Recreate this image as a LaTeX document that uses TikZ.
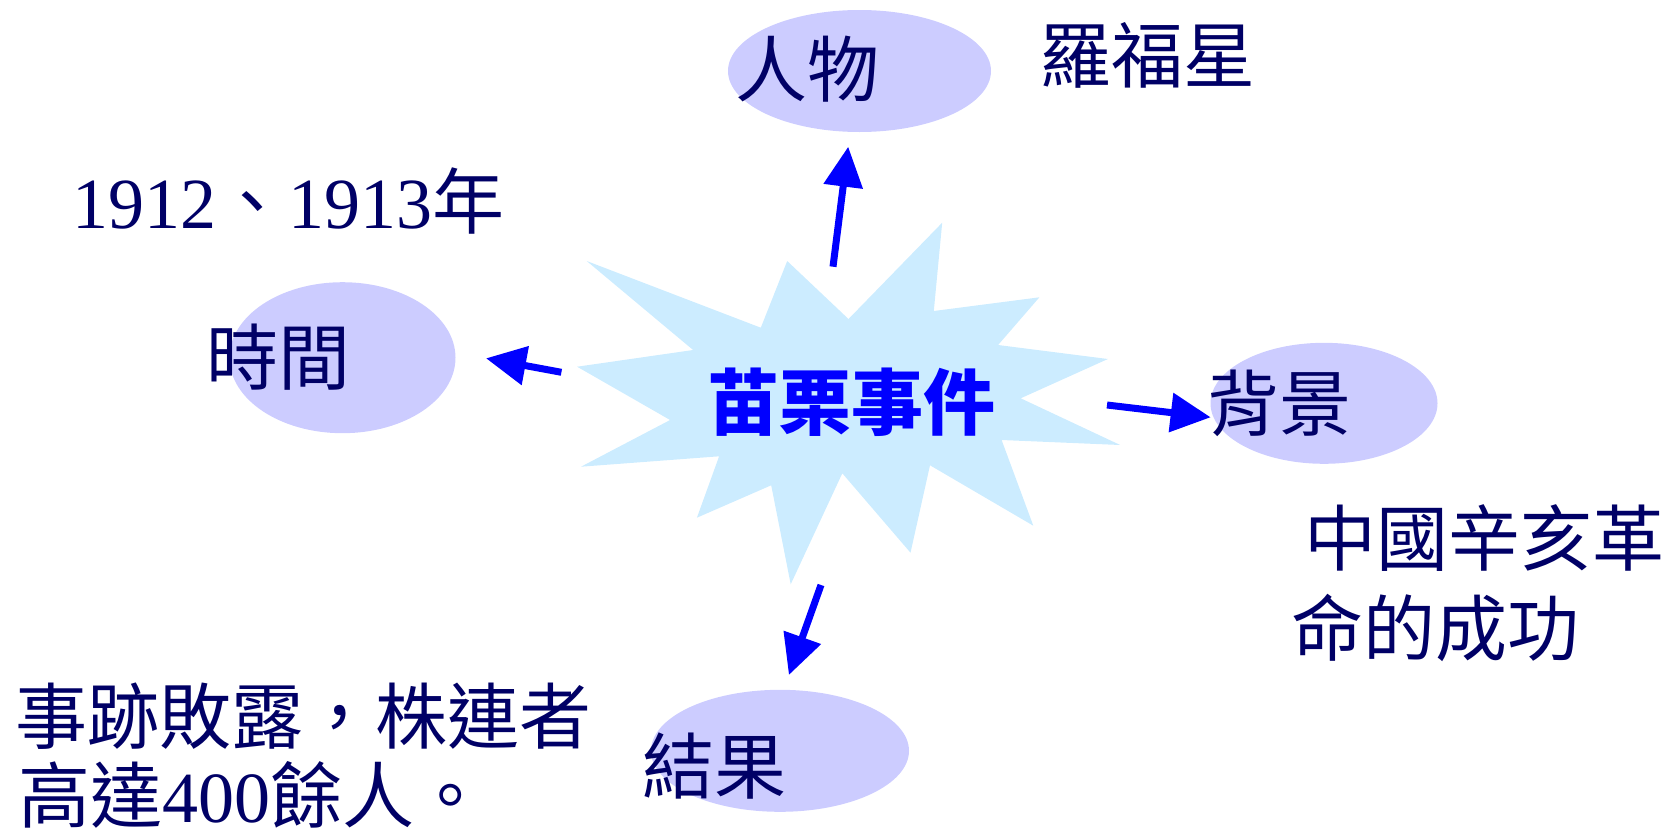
\documentclass[tikz,border=0pt]{standalone}
\usepackage{fontspec}
\setmainfont{Liberation Serif}
\newfontfamily\cjk{Noto Sans CJK TC}
\usetikzlibrary{arrows.meta,shapes.geometric}
\definecolor{navy}{RGB}{0,0,102}
\definecolor{ellfill}{RGB}{204,204,255}
\definecolor{starfill}{RGB}{204,236,255}
\definecolor{arrblue}{RGB}{0,0,255}
\tikzset{
  bubble/.style={ellipse, fill=ellfill, draw=none, inner sep=0pt},
  txt/.style={inner sep=0pt, anchor=base west, text=navy, font=\cjk\fontsize{72}{86}\selectfont},
  arr/.style={draw=arrblue, line width=7pt, -{Triangle[length=40pt,width=38pt]}},
}
\begin{document}
\begin{tikzpicture}[x=1pt,y=-1pt]
\useasboundingbox (0,0) rectangle (1670,838);
% central burst
\fill[starfill] (586.7,261) -- (760.8,327.7) -- (787.2,261) -- (848.5,319) -- (942.2,222.7)
  -- (933.8,311) -- (1039.4,297.3) -- (998.1,345) -- (1107.9,359) -- (1020.7,398.3)
  -- (1120.2,445) -- (1001.6,440) -- (1033.3,525.7) -- (930,465.3) -- (910.5,552.7)
  -- (842.3,473.3) -- (790.7,584.3) -- (771.2,485.3) -- (696.9,517.7) -- (719.1,456.3)
  -- (581,466.7) -- (670.1,420) -- (577.1,366.7) -- (693.1,350) -- cycle;
\node[txt, text=arrblue, font=\cjk\bfseries\fontsize{72}{86}\selectfont] (event) at (707,429) {苗栗事件};
% bubbles
\node[bubble, minimum width=263pt, minimum height=122pt] (people) at (859.5,71) {};
\node[bubble, minimum width=226pt, minimum height=151pt] (time) at (342.5,357.7) {};
\node[bubble, minimum width=227pt, minimum height=121pt] (bg) at (1324,403.3) {};
\node[bubble, minimum width=258pt, minimum height=122pt] (result) at (780,750.8) {};
% bubble labels
\node[txt] (peopleL) at (735,96) {人物};
\node[txt] (timeL) at (206,384) {時間};
\node[txt] (bgL) at (1207,430) {背景};
\node[txt] (resultL) at (642,793) {結果};
% notes
\node[txt] (peopleN) at (1039,82) {羅福星};
\node[txt] (timeN) at (72,228) {{\rmfamily 1912}、{\rmfamily 1913}年};
\node[txt] (bgN1) at (1304,565) {中國辛亥革};
\node[txt] (bgN2) at (1291,655) {命的成功};
\node[txt] (resN1) at (15,743) {事跡敗露，株連者};
\node[txt] (resN2) at (18,822) {高達{\rmfamily 400}餘人。};
% arrows
\coordinate (upS) at (833,266.7);
\coordinate (upE) at (848.2,146.7);
\coordinate (leftS) at (561.4,372.3);
\coordinate (leftE) at (486,358.3);
\coordinate (rightS) at (1107,405);
\coordinate (rightE) at (1210.7,417.3);
\coordinate (downS) at (821,585);
\coordinate (downE) at (788.9,675);
\draw[arr] (upS) -- (upE);
\draw[arr] (leftS) -- (leftE);
\draw[arr] (rightS) -- (rightE);
\draw[arr] (downS) -- (downE);
\end{tikzpicture}
\end{document}
